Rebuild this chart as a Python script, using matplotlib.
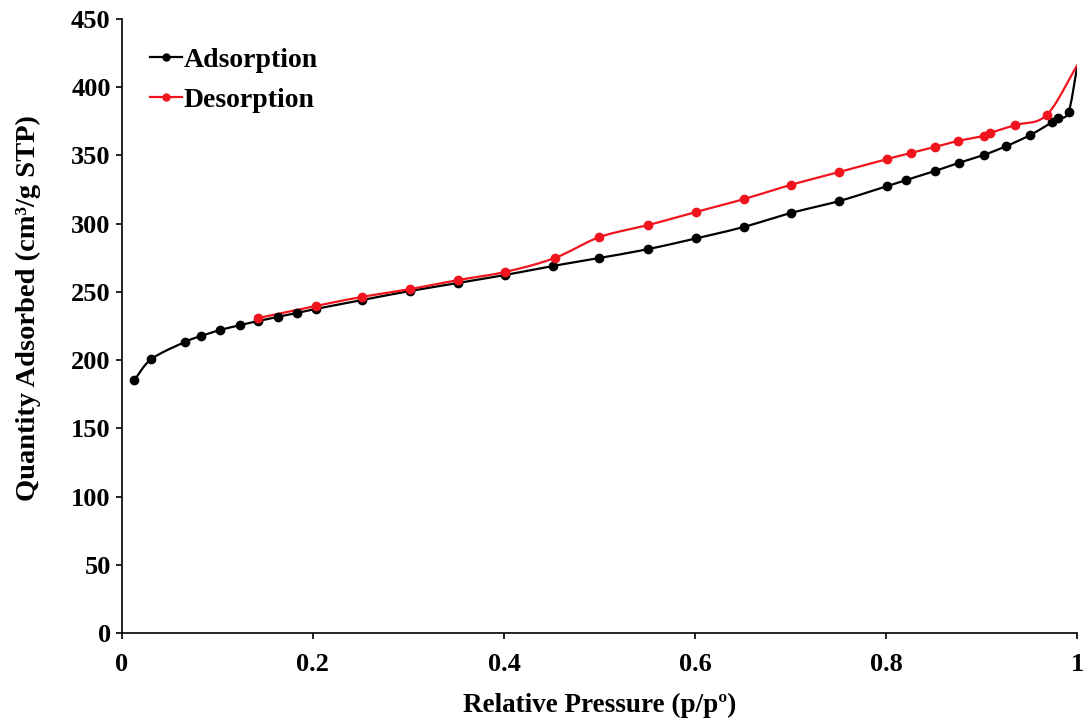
import matplotlib
matplotlib.use("Agg")
import matplotlib.pyplot as plt
import numpy as np

# --- Data ---
ads_p = [0.013, 0.031, 0.066, 0.083, 0.103, 0.124, 0.143, 0.163, 0.183, 0.203,
         0.251, 0.302, 0.352, 0.401, 0.451, 0.500, 0.551, 0.601, 0.651, 0.700,
         0.751, 0.801, 0.821, 0.851, 0.876, 0.902, 0.926, 0.951, 0.974, 0.980,
         0.991, 1.000]
ads_q = [185.4, 200.8, 213.3, 217.7, 222.1, 225.7, 228.7, 231.6, 234.5, 237.5,
         244.0, 250.7, 256.5, 262.4, 269.0, 274.8, 281.4, 289.2, 297.6, 307.8,
         316.6, 327.6, 332.0, 338.6, 344.5, 350.3, 356.9, 365.0, 374.5, 377.5,
         381.8, 415.0]

des_p = [0.143, 0.203, 0.251, 0.302, 0.352, 0.401, 0.453, 0.500, 0.551, 0.601,
         0.651, 0.700, 0.751, 0.801, 0.826, 0.851, 0.875, 0.902, 0.909, 0.935,
         0.968, 1.000]
des_q = [230.9, 239.7, 246.3, 252.1, 258.7, 264.6, 274.8, 290.2, 299.0, 308.6,
         318.0, 328.4, 337.9, 347.4, 351.8, 356.2, 360.6, 364.3, 366.5, 372.3,
         379.6, 416.0]


def smooth(x, y, n=12):
    # Catmull-Rom through the points, similar to Excel's smoothed lines
    x = np.asarray(x, float)
    y = np.asarray(y, float)
    px = np.concatenate([[2 * x[0] - x[1]], x, [2 * x[-1] - x[-2]]])
    py = np.concatenate([[2 * y[0] - y[1]], y, [2 * y[-1] - y[-2]]])
    xs, ys = [], []
    t = np.linspace(0, 1, n, endpoint=False)
    for i in range(1, len(px) - 2):
        for arr, out in ((px, xs), (py, ys)):
            p0, p1, p2, p3 = arr[i - 1], arr[i], arr[i + 1], arr[i + 2]
            out.extend(0.5 * (2 * p1 + (-p0 + p2) * t
                              + (2 * p0 - 5 * p1 + 4 * p2 - p3) * t ** 2
                              + (-p0 + 3 * p1 - 3 * p2 + p3) * t ** 3))
    xs.append(x[-1])
    ys.append(y[-1])
    return np.clip(xs, x.min(), x.max()), np.array(ys)


plt.rcParams['font.family'] = ['Liberation Serif', 'DejaVu Serif']
plt.rcParams['font.weight'] = 'bold'

fig = plt.figure(figsize=(10.88, 7.24), dpi=100)
ax = fig.add_axes([0.112, 0.1257, 0.878, 0.848])

red = '#f0141e'
for p, q, c in ((ads_p, ads_q, 'black'), (des_p, des_q, red)):
    sx, sy = smooth(p, q)
    ax.plot(sx, sy, color=c, lw=1.6, zorder=2)
    ax.plot(p[:-1], q[:-1], 'o', color=c, ms=6, zorder=3)

# legend handles
ax.plot([], [], '-o', color='black', lw=1.6, ms=5, label='Adsorption')
ax.plot([], [], '-o', color=red, lw=1.6, ms=5, label='Desorption')
h, l = ax.get_legend_handles_labels()
ax.legend(h[-2:], l[-2:], loc='upper left', frameon=False, fontsize=20,
          handlelength=1.15, handletextpad=0.05, labelspacing=0.52,
          borderaxespad=0.0, bbox_to_anchor=(0.018, 0.972))

ax.set_xlim(0, 1)
ax.set_ylim(0, 450)
ax.set_xticks([0, 0.2, 0.4, 0.6, 0.8, 1.0])
ax.set_xticklabels(['0', '0.2', '0.4', '0.6', '0.8', '1'])
ax.set_yticks(np.arange(0, 451, 50))
ax.spines['top'].set_visible(False)
ax.spines['right'].set_visible(False)
for s in ('left', 'bottom'):
    ax.spines[s].set_linewidth(1.2)
ax.tick_params(direction='out', length=4.5, width=1.2, labelsize=19)
ax.tick_params(axis='y', pad=3.5)
ax.tick_params(axis='x', pad=10)

ax.set_xlabel('Relative Pressure (p/p\u00ba)', fontsize=19.5, fontweight='bold', labelpad=12)
ax.set_ylabel('Quantity Adsorbed (cm\u00b3/g STP)', fontsize=20.5, fontweight='bold')
ax.yaxis.set_label_coords(-0.085, 0.53)

fig.savefig('out.png', dpi=100)
